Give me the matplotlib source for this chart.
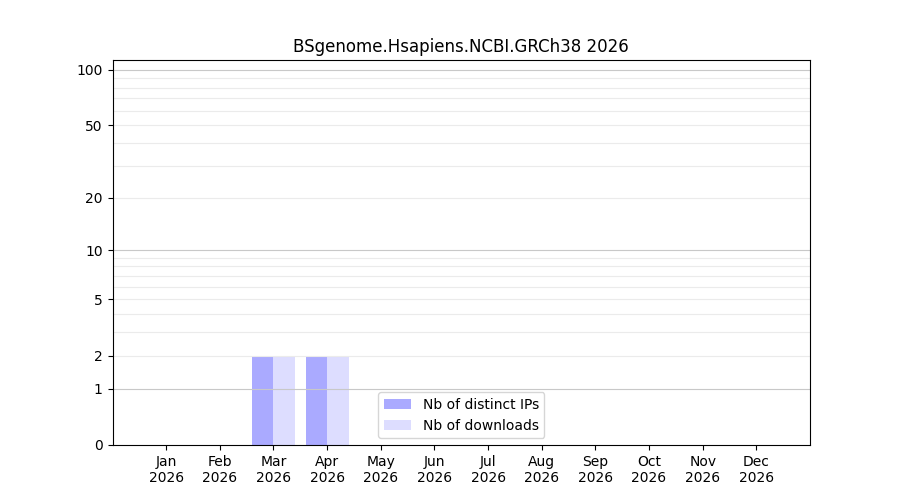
import matplotlib
matplotlib.use('Agg')
import matplotlib.pyplot as plt
import numpy as np

# monthly stats
months = ['Jan', 'Feb', 'Mar', 'Apr', 'May', 'Jun', 'Jul', 'Aug', 'Sep', 'Oct', 'Nov', 'Dec']
year = 2026
distinct_ips = [0, 0, 2, 2, 0, 0, 0, 0, 0, 0, 0, 0]
downloads = [0, 0, 2, 2, 0, 0, 0, 0, 0, 0, 0, 0]

y_ticks = [0, 1, 2, 5, 10, 20, 50, 100]
major_grid = [1, 10, 100]
minor_grid = [2, 3, 4, 5, 6, 7, 8, 9, 20, 30, 40, 50, 60, 70, 80, 90]


def fwd(y):
    return np.log10(1 + np.maximum(y, 0))


def inv(y):
    return 10 ** y - 1


fig, ax = plt.subplots(figsize=(9, 5), dpi=100)
x = np.arange(1, 13)

ax.bar(x, distinct_ips, width=-0.4, align='edge', color='#aaaaff', label='Nb of distinct IPs', zorder=1)
ax.bar(x, downloads, width=0.4, align='edge', color='#ddddff', label='Nb of downloads', zorder=1)

ax.set_yscale('function', functions=(fwd, inv))
ax.set_ylim(0, 113)
ax.set_xlim(0, 13)

# grid drawn over the bars but under the spines
for g in minor_grid:
    ax.axhline(g, color='#ebebeb', lw=0.8, zorder=2)
for g in major_grid:
    ax.axhline(g, color='#c8c8c8', lw=0.8, zorder=2)

ax.set_yticks(y_ticks)
ax.set_yticklabels([str(t) for t in y_ticks])
ax.yaxis.set_minor_locator(matplotlib.ticker.NullLocator())
ax.set_xticks(x)
ax.set_xticklabels([f'{m}\n{year}' for m in months])

ax.set_title(f'BSgenome.Hsapiens.NCBI.GRCh38 {year}')
ax.legend(loc='lower center')

fig.savefig('out.png')
